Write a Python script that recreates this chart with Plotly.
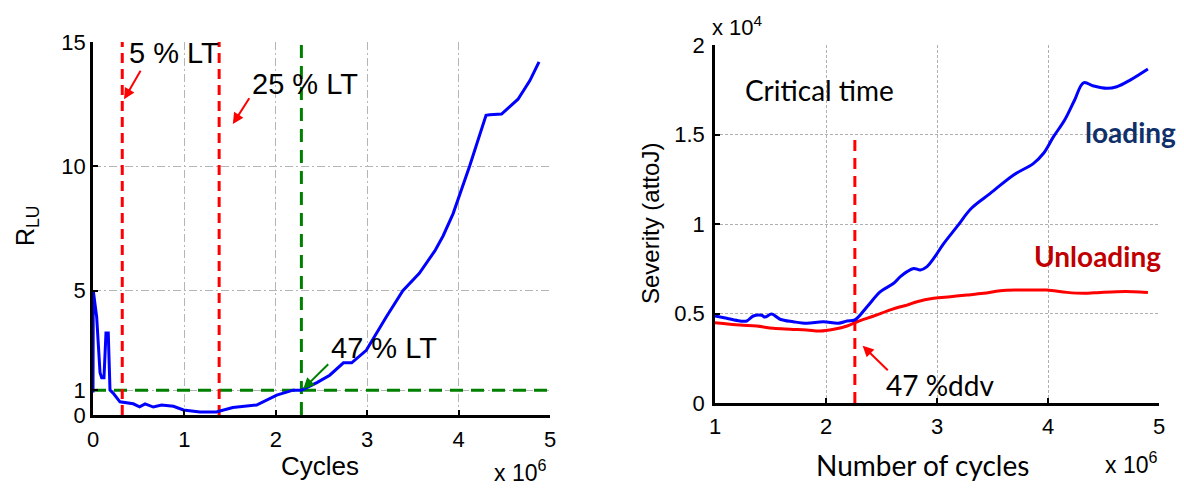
import plotly.graph_objects as go

# page body margin offset (pixels) and figure size
OFF = 8
W, H = 1176, 480

# ---------------- Left chart data (R_LU vs cycles, x 1e6) ----------------
cycles_left = [0.0, 0.003, 0.04, 0.058, 0.077, 0.095, 0.12, 0.142, 0.167, 0.186, 0.22,
               0.295, 0.37, 0.44, 0.51, 0.57, 0.66, 0.75, 0.88, 0.99, 1.17, 1.35, 1.53,
               1.79, 2.01, 2.19, 2.28, 2.45, 2.59, 2.74, 2.83, 2.99, 3.21, 3.39, 3.57,
               3.74, 3.83, 3.94, 4.12, 4.23, 4.30, 4.34, 4.47, 4.56, 4.65, 4.78, 4.88]
r_lu = [0.9, 5.0, 3.95, 2.6, 1.7, 1.5, 1.5, 3.3, 3.3, 1.0, 0.88,
        0.53, 0.48, 0.45, 0.33, 0.45, 0.32, 0.4, 0.35, 0.2, 0.12, 0.12, 0.3,
        0.4, 0.8, 1.0, 1.0, 1.3, 1.6, 2.1, 2.1, 2.6, 3.95, 5.0, 5.7,
        6.6, 7.2, 8.1, 10.0, 11.3, 12.05, 12.07, 12.1, 12.4, 12.7, 13.45, 14.2]
lt5_x = 0.32
lt25_x = 1.38
lt47_x = 2.28
r_threshold = 1.0
left_xticks = [0, 1, 2, 3, 4, 5]
left_yticks = [0, 1, 5, 10, 15]

# ---------------- Right chart data (severity, x 1e6, y 1e4) ----------------
cycles_load = [1.0, 1.105, 1.225, 1.286, 1.345, 1.42, 1.45, 1.51, 1.586, 1.705, 1.826,
               1.976, 2.11, 2.19, 2.26, 2.37, 2.49, 2.61, 2.67, 2.73, 2.79, 2.85, 2.91,
               2.97, 3.06, 3.18, 3.31, 3.48, 3.69, 3.87, 3.96, 4.05, 4.15, 4.24, 4.32,
               4.41, 4.53, 4.62, 4.74, 4.90]
severity_load = [0.486, 0.473, 0.458, 0.458, 0.486, 0.49, 0.48, 0.497, 0.468, 0.454, 0.445,
                 0.454, 0.445, 0.458, 0.464, 0.538, 0.622, 0.669, 0.706, 0.734, 0.752, 0.743, 0.762,
                 0.808, 0.89, 0.985, 1.088, 1.171, 1.274, 1.339, 1.395, 1.488, 1.581, 1.693, 1.789,
                 1.771, 1.758, 1.767, 1.804, 1.866]
cycles_unload = [1.0, 1.225, 1.376, 1.525, 1.676, 1.826, 1.946, 2.07, 2.19, 2.28, 2.43,
                 2.58, 2.67, 2.73, 2.82, 2.97, 3.12, 3.27, 3.42, 3.57, 3.72, 3.87, 3.99,
                 4.17, 4.32, 4.47, 4.62, 4.77, 4.90]
severity_unload = [0.449, 0.436, 0.43, 0.417, 0.412, 0.408, 0.402, 0.412, 0.43, 0.454, 0.486,
                   0.52, 0.538, 0.547, 0.566, 0.585, 0.594, 0.603, 0.613, 0.627, 0.631, 0.631, 0.631,
                   0.618, 0.613, 0.618, 0.622, 0.622, 0.618]
ddv47_x = 2.26
ddv_top = 1.5
right_xticks = [1, 2, 3, 4, 5]
right_yticks = [0, 0.5, 1, 1.5, 2]
right_yticktext = ["0", "0.5", "1", "1.5", "2"]


def px(x):
    return (x - OFF) / W


def py(y):
    return 1 - (y - OFF) / H


ARIAL = "Liberation Sans, Arial, sans-serif"
CAL = "Lato, Open Sans, sans-serif"

fig = go.Figure()

# left chart traces
fig.add_trace(go.Scatter(x=[0, 5], y=[r_threshold, r_threshold], mode="lines",
                         line=dict(color="#008000", width=3, dash="13px,8px"),
                         xaxis="x", yaxis="y", hoverinfo="skip"))
for xv in [lt5_x, lt25_x]:
    fig.add_trace(go.Scatter(x=[xv, xv], y=[0, 15], mode="lines",
                             line=dict(color="#ff0000", width=3, dash="10px,6px"),
                             xaxis="x", yaxis="y", hoverinfo="skip"))
fig.add_trace(go.Scatter(x=[lt47_x, lt47_x], y=[0, 15], mode="lines",
                         line=dict(color="#008000", width=3, dash="13px,8px"),
                         xaxis="x", yaxis="y", hoverinfo="skip"))
fig.add_trace(go.Scatter(x=cycles_left, y=r_lu, mode="lines",
                         line=dict(color="#0000ff", width=3),
                         xaxis="x", yaxis="y"))

# right chart traces
fig.add_trace(go.Scatter(x=[ddv47_x, ddv47_x], y=[0, ddv_top], mode="lines",
                         line=dict(color="#ff0000", width=3, dash="11px,7px"),
                         xaxis="x2", yaxis="y2", hoverinfo="skip"))
fig.add_trace(go.Scatter(x=cycles_unload, y=severity_unload, mode="lines",
                         line=dict(color="#ff0000", width=3, shape="spline"),
                         xaxis="x2", yaxis="y2"))
fig.add_trace(go.Scatter(x=cycles_load, y=severity_load, mode="lines",
                         line=dict(color="#0000ff", width=3, shape="spline"),
                         xaxis="x2", yaxis="y2"))

axis_common = dict(showline=True, linecolor="black", linewidth=2.5, ticks="inside",
                   ticklen=5, tickwidth=2, tickcolor="black", zeroline=False,
                   automargin=False,
                   tickfont=dict(family=ARIAL, size=22, color="black"), layer="above traces")

fig.update_layout(
    width=W, height=H, showlegend=False,
    paper_bgcolor="white", plot_bgcolor="white",
    margin=dict(l=0, r=0, t=0, b=0, pad=0, autoexpand=False),
    xaxis=dict(domain=[px(93), px(550)], range=[0, 5], tickvals=left_xticks,
               showgrid=True, gridcolor="#b5b5b5", griddash="8px,3px,2px,3px", gridwidth=1,
               anchor="y", ticklabelstandoff=3, **axis_common),
    yaxis=dict(domain=[py(415), py(42)], range=[0, 15], tickvals=left_yticks,
               showgrid=True, gridcolor="#b5b5b5", griddash="8px,3px,2px,3px", gridwidth=1,
               anchor="x", ticklabelstandoff=0, **axis_common),
    xaxis2=dict(domain=[px(715), px(1159)], range=[1, 5], tickvals=right_xticks,
                showgrid=True, gridcolor="#b0b0b0", griddash="3px,2px", gridwidth=1,
                anchor="y2", ticklabelstandoff=2, **axis_common),
    yaxis2=dict(domain=[py(403), py(45)], range=[0, 2], tickvals=right_yticks,
                ticktext=right_yticktext,
                showgrid=True, gridcolor="#b0b0b0", griddash="3px,2px", gridwidth=1,
                anchor="x2", ticklabelstandoff=3, **axis_common),
)

ann = []


def text(x, y, s, size, family=ARIAL, color="black", angle=0, bold=False):
    if bold:
        s = "<b>" + s + "</b>"
    ann.append(dict(x=px(x), y=py(y), xref="paper", yref="paper", text=s, showarrow=False,
                    font=dict(family=family, size=size, color=color), textangle=angle,
                    xanchor="center", yanchor="middle"))


def arrow(xref, yref, hx, hy, tx, ty, color):
    ann.append(dict(x=hx, y=hy, ax=tx, ay=ty, xref=xref, yref=yref, axref=xref, ayref=yref,
                    text="", showarrow=True, arrowhead=2, arrowsize=1.1, arrowwidth=2,
                    arrowcolor=color, standoff=0, startstandoff=0))


# left annotations
text(174, 53, "5 % LT", 29)
text(305, 84, "25 % LT", 29)
text(384, 348, "47 % LT", 29)
arrow("x", "y", 0.34, 12.7, 0.53, 13.9, "#ff0000")
arrow("x", "y", 1.53, 11.7, 1.72, 12.8, "#ff0000")
arrow("x", "y", lt47_x + 0.02, r_threshold + 0.05, 2.59, 2.1, "#008000")
text(27, 226, "R<sub>LU</sub>", 25, angle=-90)
text(320, 466, "Cycles", 26)
text(520, 471, "x 10<sup>6</sup>", 23)

# right annotations
text(819, 90, "Critical time", 28, family=CAL)
text(1130, 132, "loading", 28, family=CAL, color="#10306a", bold=True)
text(1097, 256, "Unloading", 28, family=CAL, color="#c00000", bold=True)
text(940, 385, "47 %ddv", 28, family=CAL)
arrow("x2", "y2", 2.33, 0.32, 2.57, 0.175, "#ff0000")
text(651, 224, "Severity (attoJ)", 24, angle=-90)
text(923, 465, "Number of cycles", 28, family=CAL)
text(1131, 463, "x 10<sup>6</sup>", 23)
text(737, 26, "x 10<sup>4</sup>", 22)

fig.update_layout(annotations=ann)

fig.write_html("out.html")
